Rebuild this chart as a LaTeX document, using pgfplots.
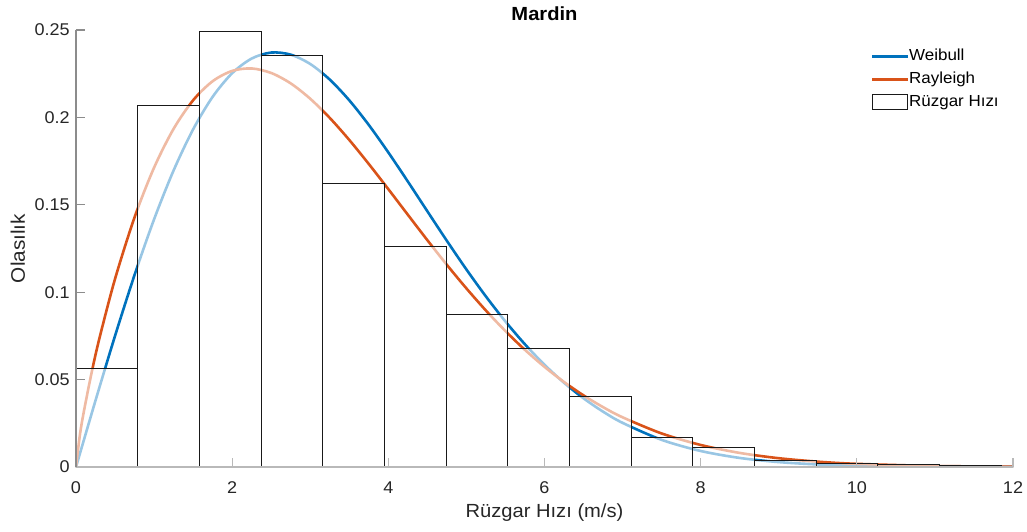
\documentclass[border=0pt]{standalone}
\usepackage{fontspec}
\setmainfont[FakeStretch=1.06]{Liberation Sans}
\usepackage{pgfplots}
\pgfplotsset{compat=1.18}
\definecolor{wblue}{RGB}{0,114,189}
\definecolor{rred}{RGB}{217,83,25}
\definecolor{axgrayy}{RGB}{140,140,140}
\definecolor{axgrayx}{RGB}{185,185,185}
\begin{document}
\begin{tikzpicture}
\useasboundingbox (-38pt,-32pt) rectangle (475.5pt,233.5pt);
\begin{axis}[
  scale only axis,
  width=468.5pt, height=218.5pt,
  xmin=0, xmax=12, ymin=0, ymax=0.25,
  axis on top,
  axis x line*=bottom, axis y line*=left,
  x axis line style={-, draw=axgrayx, line width=0.7pt},
  y axis line style={-, draw=axgrayy, line width=0.6pt},
  xtick={0,2,4,6,8,10,12},
  ytick={0,0.05,0.1,0.15,0.2,0.25},
  yticklabels={0,0.05,0.1,0.15,0.2,0.25},
  xticklabels={0,2,4,6,8,10,12},
  tick align=inside,
  major tick length=4.5pt,
  x tick style={draw=axgrayx, line width=0.6pt},
  y tick style={draw=axgrayy, line width=0.6pt},
  /pgf/number format/assume math mode=true,
  every tick label/.append style={font=\fontsize{8.5}{10}\selectfont, text=black!85},
  xticklabel style={anchor=base, yshift=-13pt, inner sep=0pt},
  yticklabel style={anchor=east, xshift=-3pt, inner sep=0pt},
  title={Mardin},
  every axis title shift=0pt,
  title style={at={(axis description cs:0.5,1)}, anchor=base, yshift=5pt, inner sep=0pt, font=\bfseries\fontsize{9.5}{11}\selectfont},
  xlabel={Rüzgar Hızı (m/s)},
  xlabel style={at={(axis description cs:0.5,0)}, anchor=base, yshift=-25pt, inner sep=0pt, font=\fontsize{9.5}{11}\selectfont, text=black!85},
  ylabel={Olasılık},
  ylabel style={at={(axis description cs:0,0.5)}, anchor=base, yshift=25.5pt, inner sep=0pt, font=\fontsize{9.8}{11}\selectfont, text=black!85},
  legend style={at={(axis description cs:0.848,0.959)}, anchor=north west, draw=none, fill=none, inner sep=0pt,
    row sep=3.5pt, font=\fontsize{8}{9}\selectfont,
    nodes={text height=6pt, text depth=2pt, inner sep=0pt}},
  legend cell align=left,
  /tikz/every even column/.append style={column sep=2.4pt},
]
\addplot[wblue, line width=1.3pt, smooth, legend image code/.code={\draw[wblue, line width=1.3pt] (0pt,0pt) -- (17.8pt,0pt);}] coordinates {
(0,0) (0.25,0.03806) (0.5,0.07503) (0.75,0.10989) (1.0,0.14170) (1.25,0.16966) (1.5,0.19317) (1.75,0.21178)
(2.0,0.22529) (2.25,0.23368) (2.5,0.23711) (2.75,0.23590) (3.0,0.23056) (3.25,0.22163) (3.5,0.20978)
(3.75,0.19567) (4.0,0.17996) (4.25,0.16332) (4.5,0.14629) (4.75,0.12938) (5.0,0.11301) (5.25,0.09756)
(5.5,0.08323) (5.75,0.07018) (6.0,0.05849) (6.25,0.04820) (6.5,0.03929) (6.75,0.03167) (7.0,0.02525)
(7.5,0.01554) (8.0,0.009164) (8.5,0.005181) (9.0,0.002810) (9.5,0.001461) (10,0.000730) (11,0.000161) (12,0.00003)
};
\addlegendentry{Weibull}
\addplot[rred, line width=1.3pt, smooth, legend image code/.code={\draw[rred, line width=1.3pt] (0pt,0pt) -- (17.8pt,0pt);}] coordinates {
(0,0) (0.05,0.01841) (0.1,0.03157) (0.2,0.05399) (0.3,0.07361) (0.5,0.10762) (0.75,0.14286) (1.0,0.17127)
(1.25,0.19347) (1.5,0.20981) (1.75,0.22071) (2.0,0.22660) (2.25,0.22800) (2.5,0.22542) (2.75,0.21946)
(3.0,0.21067) (3.25,0.19971) (3.5,0.18709) (3.75,0.17334) (4.0,0.15895) (4.25,0.14431) (4.5,0.12976)
(4.75,0.11564) (5.0,0.10217) (5.25,0.08950) (5.5,0.07775) (5.75,0.06700) (6.0,0.05731) (6.25,0.04864)
(6.5,0.04096) (6.75,0.03425) (7.0,0.02843) (7.5,0.01919) (8.0,0.01261) (8.5,0.008058) (9.0,0.005027)
(9.5,0.003052) (10,0.001809) (11,0.000591) (12,0.000175)
};
\addlegendentry{Rayleigh}
\addplot[ybar interval, fill=white, fill opacity=0.6, draw=black!90, line width=0.55pt,
  legend image code/.code={\draw[black!90, line width=0.55pt, fill=white] (0pt,-3.75pt) rectangle (17.8pt,3.75pt);}] coordinates {
(0,0.0565) (0.79,0.2067) (1.58,0.2492) (2.37,0.2353) (3.16,0.1623) (3.95,0.1260) (4.74,0.0870)
(5.53,0.0679) (6.32,0.0402) (7.11,0.0170) (7.90,0.0113) (8.69,0.0036) (9.48,0.0021) (10.27,0.0015)
(11.06,0.0006) (11.85,0.0006)
};
\addlegendentry{Rüzgar Hızı}
\end{axis}
\end{tikzpicture}
\end{document}
